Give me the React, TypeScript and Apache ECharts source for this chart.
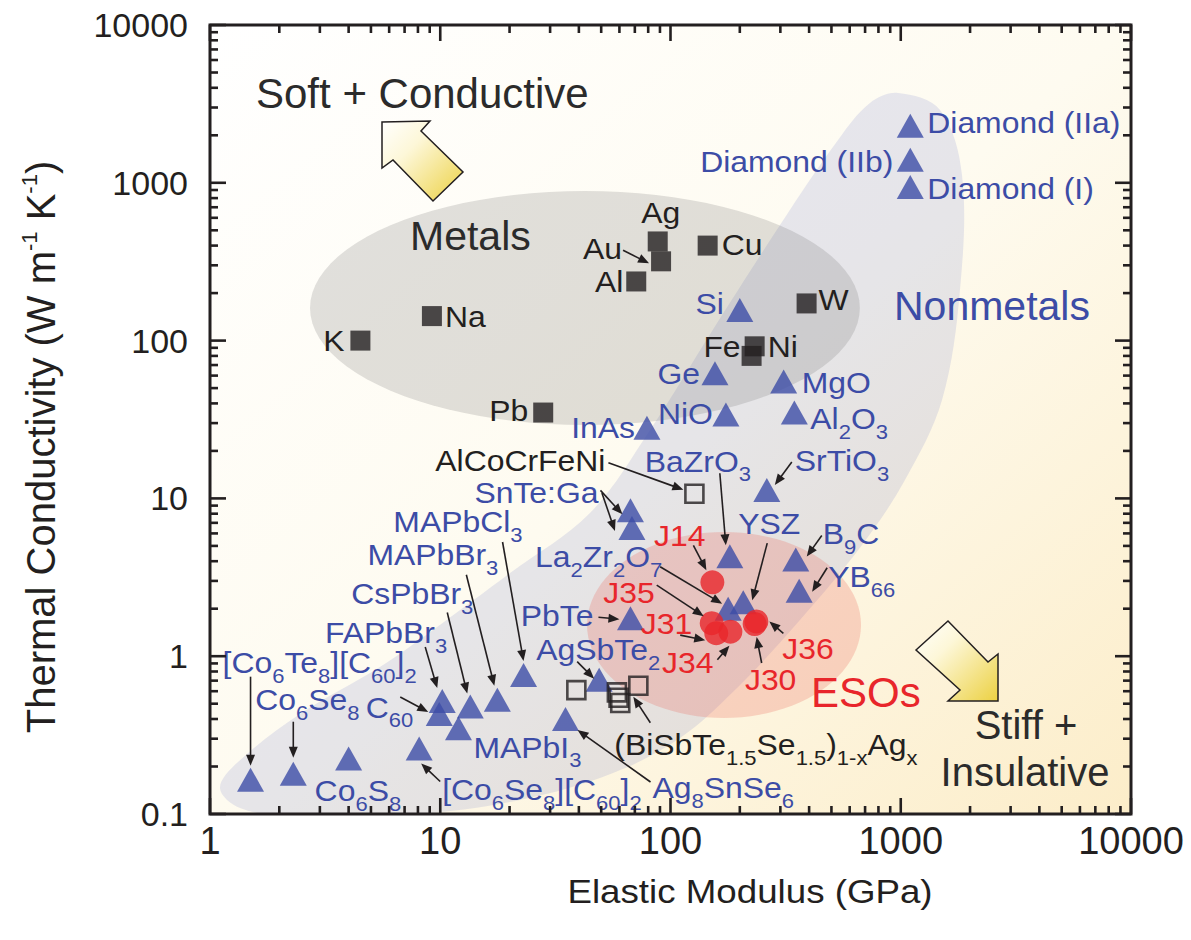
import React, { useEffect, useRef } from 'react';
import * as echarts from 'echarts';

const FONT = 'Liberation Sans, Arial, Helvetica, sans-serif';
const INK = '#231f20';
const BLUE = '#3c4ca6';
const RED = '#e8262b';

// ---------------- data ----------------
const xTickLabels = ['1', '10', '100', '1000', '10000'];
const yTickLabels = ['0.1', '1', '10', '100', '1000', '10000'];

const metalNames = ['K', 'Na', 'Pb', 'Al', 'Au', 'Ag', 'Cu', 'W', 'Fe', 'Ni'];
const metalModulus = [4.5, 9.2, 28, 71, 91, 88, 145, 390, 225, 232];
const metalConductivity = [100, 143, 35, 237, 318, 425, 400, 172, 80, 92];

const nonmetalNames = ['Diamond (IIa)', 'Diamond (IIb)', 'Diamond (I)', 'Si', 'Ge', 'MgO', 'NiO', 'Al2O3', 'InAs', 'SrTiO3',
  'SnTe:Ga', 'SnTe:Ga (2)', 'BaZrO3', 'B9C', 'YB66', 'La2Zr2O7', 'YSZ', 'PbTe', 'AgSbTe2', 'MAPbCl3',
  'MAPbBr3', 'CsPbBr3', 'FAPbBr3', 'C60', 'MAPbI3', 'Ag8SnSe6', '[Co6Se8][C60]2', '[Co6Te8][C60]2', 'Co6Se8', 'Co6S8'];
const nonmetalModulus = [1100, 1100, 1100, 200, 156, 310, 174, 345, 79, 262,
  67, 68, 181, 350, 362, 178, 207, 67, 49, 23,
  17.7, 13.5, 10.2, 9.9, 12, 35, 8.1, 1.5, 2.3, 4.0];
const nonmetalConductivity = [2300, 1400, 940, 156, 62, 55, 34, 35, 28, 11.3,
  8.4, 6.5, 4.3, 4.1, 2.6, 2.0, 2.2, 1.74, 0.71, 0.76,
  0.53, 0.48, 0.52, 0.43, 0.35, 0.40, 0.26, 0.165, 0.18, 0.225];

const alloyNames = ['AlCoCrFeNi', 'BiSbTeSe-Ag #1', 'BiSbTeSe-Ag #2', 'BiSbTeSe-Ag #3', 'BiSbTeSe-Ag #4', 'BiSbTeSe-Ag #5'];
const alloyModulus = [127, 39, 58.5, 59.5, 60.5, 72.5];
const alloyConductivity = [10.7, 0.61, 0.59, 0.545, 0.505, 0.65];

const esoNames = ['J14', 'J35', 'J31', 'J34', 'J30', 'J36'];
const esoModulus = [152, 151, 158, 182, 232, 236];
const esoConductivity = [2.94, 1.62, 1.40, 1.43, 1.60, 1.66];

// ---------------- regions (data space) ----------------
const metalRegion = { center: [42.5, 161], spanDecX: 1.194, spanDecY: 0.741 };
const esoRegion = { center: [170.8, 1.577], spanDecX: 0.595, spanDecY: 0.589 };
const nonmetalOutline = [
  [973, 3708], [1481, 2893], [1845, 1121], [1808, 209], [1511, 42.0], [1043, 13.08], [679, 5.07],
  [365, 1.696], [190.6, 0.6106], [110, 0.303], [56.3, 0.1819], [22.2, 0.1227], [7.39, 0.0986],
  [2.46, 0.0944], [1.35, 0.1091], [1.105, 0.1462], [1.323, 0.2136], [2.46, 0.4302], [5.47, 0.8544],
  [9.3, 1.466], [20.1, 3.367], [44.7, 8.08], [81.5, 27.1], [152.5, 116.7], [299, 540], [534, 1867], [735, 3204],
];

// ---------------- label layout (pixel offsets from the point) ----------------
type Layout = { t?: string; dx: number; dy: number; a?: 'left' | 'right' | 'center'; ar?: number[] };

const metalLabels: Record<string, Layout> = {
  K: { t: 'K', dx: -16, dy: 0, a: 'right' },
  Na: { t: 'Na', dx: 13, dy: 0, a: 'left' },
  Pb: { t: 'Pb', dx: -15, dy: -2, a: 'right' },
  Al: { t: 'Al', dx: -13, dy: 0, a: 'right' },
  Au: { t: 'Au', dx: -39, dy: -13, a: 'right', ar: [-38, -11, -12, 2] },
  Ag: { t: 'Ag', dx: 3, dy: -29, a: 'center' },
  Cu: { t: 'Cu', dx: 14, dy: -1, a: 'left' },
  W: { t: 'W', dx: 12, dy: -4, a: 'left' },
  Fe: { t: 'Fe', dx: -11, dy: -9, a: 'right' },
  Ni: { t: 'Ni', dx: 13, dy: 0, a: 'left' },
};

const nonmetalLabels: Record<string, Layout> = {
  'Diamond (IIa)': { t: 'Diamond (IIa)', dx: 17, dy: -3, a: 'left' },
  'Diamond (IIb)': { t: 'Diamond (IIb)', dx: -17, dy: 2, a: 'right' },
  'Diamond (I)': { t: 'Diamond (I)', dx: 17, dy: 1, a: 'left' },
  Si: { t: 'Si', dx: -16, dy: -7, a: 'right' },
  Ge: { t: 'Ge', dx: -15, dy: 0, a: 'right' },
  MgO: { t: 'MgO', dx: 18, dy: 1, a: 'left' },
  NiO: { t: 'NiO', dx: -13, dy: -1, a: 'right' },
  Al2O3: { t: 'Al_{2}O_{3}', dx: 16, dy: 6, a: 'left' },
  InAs: { t: 'InAs', dx: -12, dy: 0, a: 'right' },
  SrTiO3: { t: 'SrTiO_{3}', dx: 28, dy: -29, a: 'left', ar: [25, -28, 8, -5] },
  'SnTe:Ga': { t: 'SnTe:Ga', dx: -32, dy: -18, a: 'right', ar: [-30, -20, -8, 4] },
  'SnTe:Ga (2)': { dx: 0, dy: 0, ar: [-30, -35, -17, 3] },
  BaZrO3: { t: 'BaZrO_{3}', dx: -85, dy: -95, a: 'left', ar: [-10, -83, -4, -11] },
  B9C: { t: 'B_{9}C', dx: 27, dy: -26, a: 'left', ar: [26, -24, 11, -3] },
  YB66: { t: 'YB_{66}', dx: 29, dy: -14, a: 'left', ar: [28, -23, 13, 1] },
  La2Zr2O7: { t: 'La_{2}Zr_{2}O_{7}', dx: -66, dy: -52, a: 'right', ar: [-68, -42, -6, -5] },
  YSZ: { t: 'YSZ', dx: 26, dy: -79, a: 'center', ar: [24, -59, 9, -2] },
  PbTe: { t: 'PbTe', dx: -37, dy: -3, a: 'right', ar: [-32, -1, -11, 1] },
  AgSbTe2: { t: 'AgSbTe_{2}', dx: 61, dy: -30, a: 'right', ar: [-22, -18, -5, -1] },
  MAPbCl3: { t: 'MAPbCl_{3}', dx: -1, dy: -153, a: 'right', ar: [-21, -133, 0, -14] },
  MAPbBr3: { t: 'MAPbBr_{3}', dx: 1, dy: -145, a: 'right', ar: [-31, -125, -3, -14] },
  CsPbBr3: { t: 'CsPbBr_{3}', dx: 3, dy: -113, a: 'right', ar: [-23, -94, -3, -13] },
  FAPbBr3: { t: 'FAPbBr_{3}', dx: 5, dy: -68, a: 'right', ar: [-17, -54, -5, -13] },
  C60: { t: 'C_{60}', dx: -26, dy: -7, a: 'right', ar: [-39, -17, -11, -2] },
  MAPbI3: { t: 'MAPbI_{3}', dx: 15, dy: 19, a: 'left' },
  Ag8SnSe6: { t: 'Ag_{8}SnSe_{6}', dx: 87, dy: 69, a: 'left', ar: [85, 63, 12, 11] },
  '[Co6Se8][C60]2': { t: '[Co_{6}Se_{8}][C_{60}]_{2}', dx: 23, dy: 41, a: 'left', ar: [21, 33, 2, 15] },
  '[Co6Te8][C60]2': { t: '[Co_{6}Te_{8}][C_{60}]_{2}', dx: -28, dy: -117, a: 'left', ar: [0, -103, 0, -14] },
  Co6Se8: { t: 'Co_{6}Se_{8}', dx: -38, dy: -74, a: 'left', ar: [0, -52, 0, -16] },
  Co6S8: { t: 'Co_{6}S_{8}', dx: -34, dy: 32, a: 'left' },
};

const alloyLabels: Record<string, Layout> = {
  AlCoCrFeNi: { t: 'AlCoCrFeNi', dx: -89, dy: -33, a: 'right', ar: [-86, -31, -11, -4] },
  'BiSbTeSe-Ag #5': { t: '(BiSbTe_{1.5}Se_{1.5})_{1-x}Ag_{x}', dx: -24, dy: 59, a: 'left', ar: [12, 37, -5, 11] },
};

const esoLabels: Record<string, Layout> = {
  J14: { t: 'J14', dx: -7, dy: -47, a: 'right', ar: [-19, -37, -6, -12] },
  J35: { t: 'J35', dx: -57, dy: -31, a: 'right', ar: [-55, -38, -8, -7] },
  J31: { t: 'J31', dx: -24, dy: -10, a: 'right', ar: [-36, 2, -11, 7] },
  J34: { t: 'J34', dx: -17, dy: 31, a: 'right', ar: [-13, 28, -1, 14] },
  J30: { t: 'J30', dx: 16, dy: 56, a: 'center', ar: [7, 39, 2, 13] },
  J36: { t: 'J36', dx: 26, dy: 27, a: 'left', ar: [27, 12, 13, 0] },
};

// ---------------- helpers ----------------
const LABEL_SIZE = 29;
const LABEL_SCALE_X = 1.1;
const labelRich = {
  m: { fontSize: LABEL_SIZE, fontFamily: FONT, lineHeight: 48, verticalAlign: 'middle' },
  s: { fontSize: 20, fontFamily: FONT, lineHeight: 20, padding: [26, 0, 0, 0], verticalAlign: 'middle' },
  p: { fontSize: 20, fontFamily: FONT, lineHeight: 20, padding: [0, 0, 26, 0], verticalAlign: 'middle' },
};

function toRich(s: string) {
  let out = '';
  const re = /(_|\^)\{([^}]*)\}/g;
  let last = 0;
  let m: RegExpExecArray | null;
  while ((m = re.exec(s))) {
    if (m.index > last) out += `{m|${s.slice(last, m.index)}}`;
    out += `{${m[1] === '_' ? 's' : 'p'}|${m[2]}}`;
    last = re.lastIndex;
  }
  if (last < s.length) out += `{m|${s.slice(last)}}`;
  return out;
}

function arrowEls(sx: number, sy: number, ex: number, ey: number) {
  const dx = ex - sx;
  const dy = ey - sy;
  const L = Math.hypot(dx, dy) || 1;
  const ux = dx / L;
  const uy = dy / L;
  const h = Math.min(11, L * 0.6);
  const w = 4.5;
  const bx = ex - ux * h;
  const by = ey - uy * h;
  return [
    { type: 'line', shape: { x1: sx, y1: sy, x2: bx + ux, y2: by + uy }, style: { stroke: INK, lineWidth: 1.6 } },
    { type: 'polygon', shape: { points: [[ex, ey], [bx - uy * w, by + ux * w], [bx + uy * w, by - ux * w]] }, style: { fill: INK } },
  ];
}

function labelSeries(names: string[], xs: number[], ys: number[], layouts: Record<string, Layout>, color: string) {
  return {
    type: 'custom',
    coordinateSystem: 'cartesian2d',
    silent: true,
    z: 6,
    data: names.map((_, i) => [xs[i], ys[i]]),
    renderItem: (params: any, api: any) => {
      const L = layouts[names[params.dataIndex]];
      const children: any[] = [];
      if (L) {
        const p = api.coord([api.value(0), api.value(1)]);
        if (L.ar) children.push(...arrowEls(p[0] + L.ar[0], p[1] + L.ar[1], p[0] + L.ar[2], p[1] + L.ar[3]));
        if (L.t) {
          children.push({
            type: 'text',
            x: p[0] + L.dx,
            y: p[1] + L.dy,
            scaleX: LABEL_SCALE_X,
            style: {
              text: toRich(L.t),
              rich: labelRich,
              fill: color,
              fontFamily: FONT,
              fontSize: LABEL_SIZE,
              align: L.a || 'left',
              verticalAlign: 'middle',
            },
          });
        }
      }
      return { type: 'group', children };
    },
  };
}

function ellipsePoints(api: any, r: { center: number[]; spanDecX: number; spanDecY: number }) {
  const c = api.coord(r.center);
  const rx = api.coord([r.center[0] * Math.pow(10, r.spanDecX), r.center[1]])[0] - c[0];
  const ry = c[1] - api.coord([r.center[0], r.center[1] * Math.pow(10, r.spanDecY)])[1];
  const pts: number[][] = [];
  for (let i = 0; i < 96; i++) {
    const t = (i / 96) * Math.PI * 2;
    pts.push([c[0] + rx * Math.cos(t), c[1] + ry * Math.sin(t)]);
  }
  return pts;
}

function buildOption() {
  const axisFmt = (labels: string[], offset: number) => (v: number) => labels[Math.round(Math.log10(v)) + offset] ?? '';
  return {
    animation: false,
    backgroundColor: '#ffffff',
    grid: {
      left: 210, right: 60, top: 25, bottom: 126, show: true, borderWidth: 0,
      backgroundColor: new echarts.graphic.LinearGradient(0, 0, 1, 1, [
        { offset: 0, color: '#ffffff' },
        { offset: 0.5, color: '#fefbf0' },
        { offset: 1, color: '#fcedc9' },
      ]),
    },
    xAxis: {
      type: 'log', logBase: 10, min: 1, max: 10000,
      axisLine: { show: false }, axisTick: { show: false }, splitLine: { show: false },
      axisLabel: { fontSize: 38, color: INK, fontFamily: FONT, margin: 8, showMinLabel: true, showMaxLabel: true, formatter: axisFmt(xTickLabels, 0) },
    },
    yAxis: {
      type: 'log', logBase: 10, min: 0.1, max: 10000,
      axisLine: { show: false }, axisTick: { show: false }, splitLine: { show: false },
      axisLabel: { fontSize: 34, color: INK, fontFamily: FONT, margin: 22, showMinLabel: true, showMaxLabel: true, formatter: axisFmt(yTickLabels, 1) },
    },
    graphic: [
      {
        type: 'polygon', z: 5,
        shape: { points: [[382, 122], [430, 121], [421, 131], [463, 172], [433, 201], [393, 160], [382, 168]] },
        style: {
          fill: new echarts.graphic.LinearGradient(0, 0, 1, 1, [
            { offset: 0, color: '#ffffff' }, { offset: 0.35, color: '#fdf7d8' }, { offset: 1, color: '#ecd142' },
          ]),
          stroke: INK, lineWidth: 1.5,
        },
      },
      {
        type: 'polygon', z: 5,
        shape: { points: [[916, 650], [948, 621], [988, 662], [998, 654], [998, 701], [948, 701], [960, 690]] },
        style: {
          fill: new echarts.graphic.LinearGradient(0, 0, 1, 1, [
            { offset: 0, color: '#ffffff' }, { offset: 0.35, color: '#fdf7d8' }, { offset: 1, color: '#ecd142' },
          ]),
          stroke: INK, lineWidth: 1.5,
        },
      },
      { type: 'text', z: 5, x: 256, y: 93, style: { text: 'Soft + Conductive', fill: '#2b2b2b', fontSize: 42, fontFamily: FONT, align: 'left', verticalAlign: 'middle' } },
      { type: 'text', z: 5, x: 410, y: 236, style: { text: 'Metals', fill: '#2b2b2b', fontSize: 41, fontFamily: FONT, align: 'left', verticalAlign: 'middle' } },
      { type: 'text', z: 5, x: 894, y: 306, style: { text: 'Nonmetals', fill: BLUE, fontSize: 41, fontFamily: FONT, align: 'left', verticalAlign: 'middle' } },
      { type: 'text', z: 5, x: 811, y: 692, style: { text: 'ESOs', fill: RED, fontSize: 42, fontFamily: FONT, align: 'left', verticalAlign: 'middle' } },
      { type: 'text', z: 5, x: 1026, y: 725, style: { text: 'Stiff +', fill: '#2b2b2b', fontSize: 40, fontFamily: FONT, align: 'center', verticalAlign: 'middle' } },
      { type: 'text', z: 5, x: 1025, y: 772, style: { text: 'Insulative', fill: '#2b2b2b', fontSize: 40, fontFamily: FONT, align: 'center', verticalAlign: 'middle' } },
      {
        type: 'text', z: 5, x: 750, y: 891, scaleX: 1.08,
        style: { text: 'Elastic Modulus (GPa)', fill: INK, fontSize: 34, fontFamily: FONT, align: 'center', verticalAlign: 'middle' },
      },
      {
        type: 'text', z: 5, x: 41, y: 447, rotation: Math.PI / 2,
        style: {
          text: '{m|Thermal Conductivity (W m}{p|-1}{m| K}{p|-1}{m|)}',
          rich: {
            m: { fontSize: 40, fontFamily: FONT, lineHeight: 52, verticalAlign: 'middle', fill: INK },
            p: { fontSize: 22, fontFamily: FONT, lineHeight: 22, padding: [0, 0, 24, 0], verticalAlign: 'middle', fill: INK },
          },
          fill: INK, align: 'center', verticalAlign: 'middle',
        },
      },
    ],
    series: [
      {
        type: 'custom', coordinateSystem: 'cartesian2d', silent: true, clip: true, z: 1,
        data: [[0], [1], [2]],
        renderItem: (params: any, api: any) => {
          if (params.dataIndex === 0) {
            return { type: 'polygon', shape: { points: nonmetalOutline.map((p) => api.coord(p)), smooth: 0.35 }, style: { fill: 'rgba(110,122,200,0.17)' } };
          }
          if (params.dataIndex === 1) {
            return { type: 'polygon', shape: { points: ellipsePoints(api, metalRegion) }, style: { fill: 'rgba(105,105,105,0.2)' } };
          }
          return { type: 'polygon', shape: { points: ellipsePoints(api, esoRegion) }, style: { fill: 'rgba(236,95,85,0.24)' } };
        },
      },
      {
        name: 'Metals', type: 'scatter', z: 3, symbol: 'rect', symbolSize: 20,
        itemStyle: { color: INK },
        data: metalModulus.map((x, i) => [x, metalConductivity[i]]),
      },
      {
        name: 'Nonmetals', type: 'scatter', z: 3, symbol: 'triangle', symbolSize: [27, 24],
        itemStyle: { color: BLUE },
        data: nonmetalModulus.map((x, i) => [x, nonmetalConductivity[i]]),
      },
      {
        name: 'Alloys', type: 'scatter', z: 4, symbol: 'rect', symbolSize: 18,
        itemStyle: { color: 'rgba(0,0,0,0)', borderColor: INK, borderWidth: 2.6 },
        data: alloyModulus.map((x, i) => [x, alloyConductivity[i]]),
      },
      {
        name: 'ESOs', type: 'scatter', z: 4, symbol: 'circle', symbolSize: 24,
        itemStyle: { color: RED },
        data: esoModulus.map((x, i) => [x, esoConductivity[i]]),
      },
      labelSeries(metalNames, metalModulus, metalConductivity, metalLabels, INK),
      labelSeries(nonmetalNames, nonmetalModulus, nonmetalConductivity, nonmetalLabels, BLUE),
      labelSeries(alloyNames, alloyModulus, alloyConductivity, alloyLabels, INK),
      labelSeries(esoNames, esoModulus, esoConductivity, esoLabels, RED),
      {
        type: 'custom', coordinateSystem: 'cartesian2d', silent: true, z: 8,
        data: [[10, 1]],
        renderItem: (_params: any, api: any) => {
          const lb = api.coord([1, 0.1]);
          const rt = api.coord([10000, 10000]);
          const children: any[] = [];
          const tk = (x1: number, y1: number, x2: number, y2: number) =>
            children.push({ type: 'line', shape: { x1, y1, x2, y2 }, style: { stroke: INK, lineWidth: 2.6 } });
          for (let d = 0; d <= 4; d++) {
            for (let m = 1; m < 10; m++) {
              const v = m * Math.pow(10, d);
              if (v > 10000) break;
              const x = api.coord([v, 1])[0];
              const len = m === 1 ? 16 : 8;
              tk(x, lb[1], x, lb[1] - len);
              tk(x, rt[1], x, rt[1] + len);
            }
          }
          for (let d = -1; d <= 4; d++) {
            for (let m = 1; m < 10; m++) {
              const v = m * Math.pow(10, d);
              if (v > 10000) break;
              const y = api.coord([1, v])[1];
              const len = m === 1 ? 16 : 8;
              tk(lb[0], y, lb[0] + len, y);
              tk(rt[0], y, rt[0] - len, y);
            }
          }
          children.push({
            type: 'rect',
            shape: { x: lb[0], y: rt[1], width: rt[0] - lb[0], height: lb[1] - rt[1] },
            style: { fill: 'none', stroke: INK, lineWidth: 3 },
          });
          return { type: 'group', children };
        },
      },
    ],
  };
}

export default function App() {
  const ref = useRef<HTMLDivElement>(null);
  useEffect(() => {
    if (!ref.current) return;
    const chart = echarts.init(ref.current, undefined, { renderer: 'svg' });
    chart.setOption(buildOption() as any);
    return () => chart.dispose();
  }, []);
  return <div ref={ref} style={{ position: 'fixed', left: 0, top: 0, width: 1191, height: 940, background: '#ffffff' }} />;
}
